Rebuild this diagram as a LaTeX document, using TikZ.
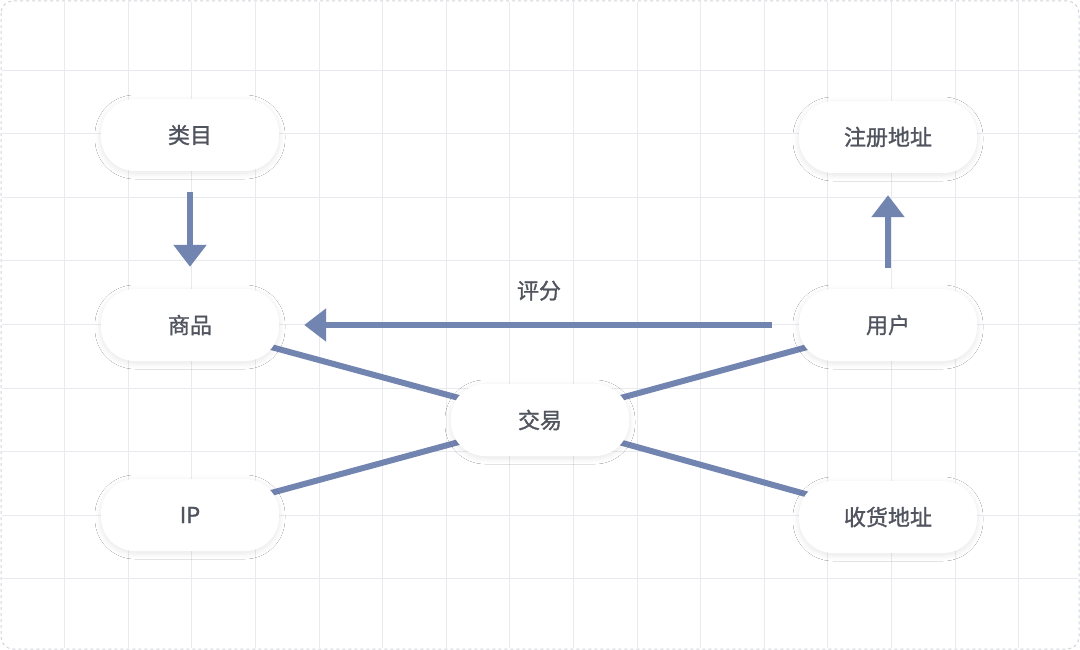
\documentclass[tikz,border=0pt]{standalone}
\usepackage{fontspec}
\newfontfamily\cjk{Noto Sans CJK SC}[FakeBold=1.2]
\usetikzlibrary{arrows.meta,shadows.blur}
\definecolor{edge}{RGB}{114,132,176}
\definecolor{gridc}{RGB}{232,234,240}
\definecolor{txt}{RGB}{80,84,94}
\tikzset{
  pill/.style={draw=none,fill=white,rounded corners=34pt,minimum width=178pt,minimum height=72pt,
    font=\cjk\fontsize{22pt}{24pt}\selectfont,text=txt,
    blur shadow={shadow xshift=0pt,shadow yshift=-2pt,shadow blur radius=6pt,shadow blur steps=10,shadow opacity=10}},
  link/.style={draw=edge,line width=6pt},
  arr/.style={link,-{Triangle[width=32pt,length=22pt]}}
}
\begin{document}
\begin{tikzpicture}[x=1pt,y=-1pt]
\useasboundingbox (0,0) rectangle (1080,650);
\fill[white] (0,0) rectangle (1080,650);
\foreach \i in {1,...,16} \draw[gridc,line width=1pt] ({1+63.6*\i},2) -- ({1+63.6*\i},648);
\foreach \j in {1,...,9} \draw[gridc,line width=1pt] (2,{6.5+63.6*\j}) -- (1078,{6.5+63.6*\j});
\draw[gridc!80!gray,dashed,line width=1pt,rounded corners=12pt] (1,1) rectangle (1079,649);
\coordinate (clm) at (190,135);
\coordinate (csp) at (190,325);
\coordinate (cip) at (190,515);
\coordinate (cjy) at (540,420);
\coordinate (cyh) at (888,325);
\coordinate (csh) at (888,517);
\draw[link] (csp) -- (cjy);
\draw[link] (cip) -- (cjy);
\draw[link] (cyh) -- (cjy);
\draw[link] (csh) -- (cjy);
\node[pill] (lm) at (clm) {类目};
\node[pill] (sp) at (csp) {商品};
\node[pill] (ip) at (cip) {IP};
\node[pill] (jy) at (cjy) {交易};
\node[pill] (zc) at (888,137) {注册地址};
\node[pill] (yh) at (cyh) {用户};
\node[pill] (sh) at (csh) {收货地址};
\draw[arr,shorten <=21pt,shorten >=22pt] (lm) -- (sp);
\draw[arr,shorten <=21pt,shorten >=22pt] (yh) -- (zc);
\draw[arr,shorten <=27pt,shorten >=25pt] (yh.west) -- (sp.east) node[midway,above=18pt,font=\cjk\fontsize{22pt}{24pt}\selectfont,text=txt] (pf) {评分};
\end{tikzpicture}
\end{document}
